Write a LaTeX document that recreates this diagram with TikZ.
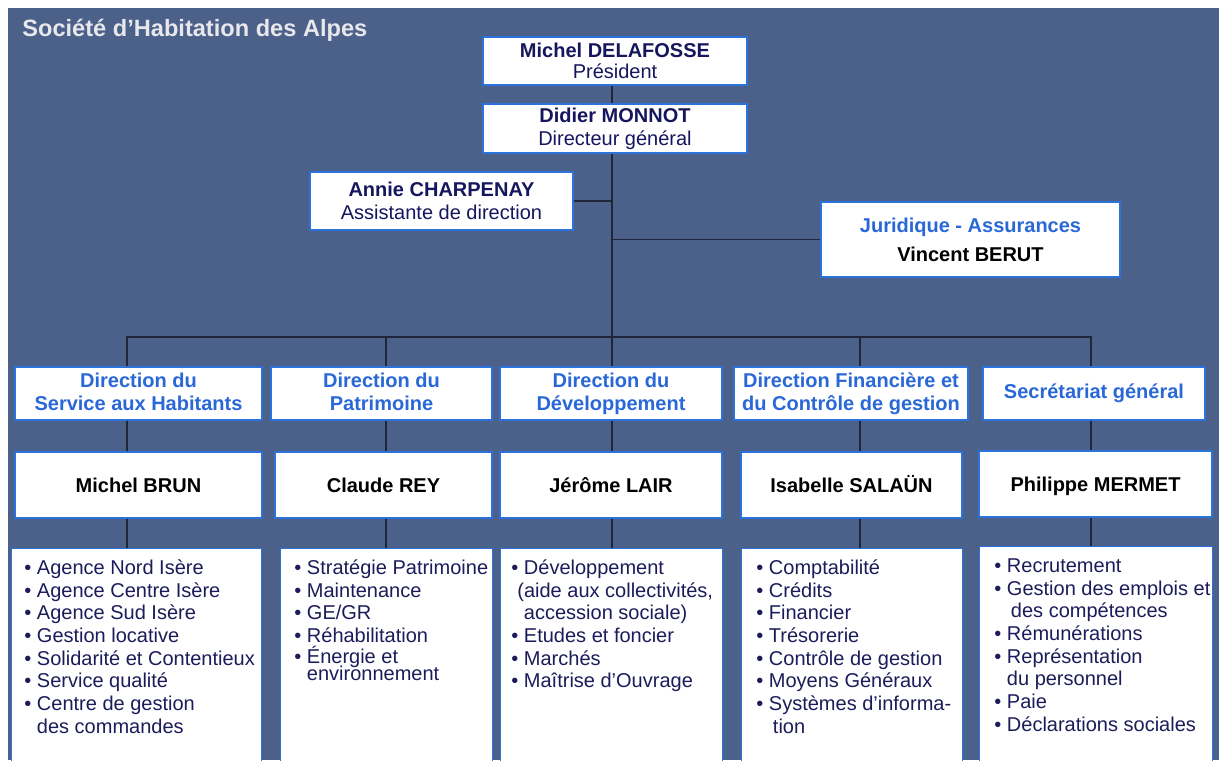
\documentclass[tikz,border=0pt]{standalone}
\usepackage{fontspec}
\setmainfont{Liberation Sans}
\usepackage{tikz}
\definecolor{backblue}{HTML}{4B6189}
\definecolor{boxline}{HTML}{2C72DC}
\definecolor{headblue}{HTML}{2A68D8}
\definecolor{navy}{HTML}{16165E}
\definecolor{listnavy}{HTML}{1C1C5A}
\definecolor{wire}{HTML}{1E2638}
\definecolor{titlegrey}{HTML}{E8E8EC}
\newcommand{\bul}{\textbullet\ }
\newcommand{\cont}{\phantom{\textbullet\ }}
\newcommand{\fsz}[1]{\fontsize{10pt}{#1}\selectfont}

\begin{document}
\begin{tikzpicture}[x=0.5pt, y=-0.5pt,
    box/.style={draw=boxline, line width=0.7pt, fill=white, inner sep=0pt, align=center},
    struts/.style={execute at begin node=\rule{0pt}{#1},
      execute at end node=\rule[-2.2pt]{0pt}{0pt}},
    headbox/.style={box, struts=7.6pt, text=headblue, font=\bfseries\fsz{11.5pt},
      minimum height=26.5pt},
    namebox/.style={box, struts=9.2pt, text=black, font=\bfseries\fsz{11.5pt},
      minimum height=33pt},
    listbox/.style={draw=boxline, line width=0.7pt, fill=white, inner sep=0pt,
      anchor=north west, minimum height=120pt},
    items/.style={anchor=north west, inner sep=0pt, align=left, text=listnavy,
      font=\fsz{11.35pt}},
    wire/.style={draw=wire, line width=0.8pt}]
      \useasboundingbox (0,0) rectangle (1219,760);
      \clip (0,0) rectangle (1219,760);
      \fill[white] (0,0) rectangle (1219,760);
      \fill[backblue] (8,8) rectangle (1219,760);

      \node[anchor=base west, inner sep=0pt, text=titlegrey,
            font=\bfseries\fontsize{11.8pt}{14pt}\selectfont]
        (title) at (22,36) {Société d’Habitation des Alpes};

      \node[box, text=navy, font=\fsz{10.5pt}, minimum width=132pt, minimum height=24pt]
        (pres) at (615,61) {\textbf{Michel DELAFOSSE}\\Président};
      \node[box, text=navy, font=\fsz{11.5pt}, minimum width=132pt, minimum height=24.5pt]
        (dg) at (615,128.5) {\textbf{Didier MONNOT}\\Directeur général};
      \node[box, text=navy, font=\fsz{11.5pt}, minimum width=131.5pt, minimum height=29pt]
        (annie) at (441.5,201) {\textbf{Annie CHARPENAY}\\Assistante de direction};
      \node[box, text=black, font=\bfseries\fsz{11.5pt}, minimum width=149.5pt,
            minimum height=37.5pt]
        (jur) at (970.5,239.5)
        {\textcolor{headblue}{Juridique - Assurances}\\[3pt]Vincent BERUT};

      \coordinate (c1) at (127,337);
      \coordinate (c2) at (386,337);
      \coordinate (bus) at (612,337);
      \coordinate (c3) at (612,337);
      \coordinate (c4) at (860,337);
      \coordinate (c5) at (1091,337);

      \node[headbox, minimum width=123.5pt] (d1) at (138.5,393.5)
        {Direction du\\Service aux Habitants};
      \node[headbox, minimum width=110.5pt] (d2) at (381.5,393.5)
        {Direction du\\Patrimoine};
      \node[headbox, minimum width=111pt] (d3) at (611,393.5)
        {Direction du\\Développement};
      \node[headbox, minimum width=117pt] (d4) at (851,393.5)
        {Direction Financière et\\du Contrôle de gestion};
      \node[headbox, minimum width=111pt] (d5) at (1094,393.5)
        {Secrétariat général};

      \node[namebox, minimum width=123.5pt] (n1) at (138.5,485) {Michel BRUN};
      \node[namebox, minimum width=108.5pt] (n2) at (383.5,485) {Claude REY};
      \node[namebox, minimum width=111pt] (n3) at (611,485) {Jérôme LAIR};
      \node[namebox, minimum width=110.5pt] (n4) at (851.5,485) {Isabelle SALAÜN};
      \node[namebox, minimum width=116.5pt] (n5) at (1095.5,484) {Philippe MERMET};

      \node[listbox, minimum width=125pt] (l1) at (11,548) {};
      \node[listbox, minimum width=106pt] (l2) at (280,548) {};
      \node[listbox, minimum width=111pt] (l3) at (500,548) {};
      \node[listbox, minimum width=110.5pt] (l4) at (741,548) {};
      \node[listbox, minimum width=116.5pt] (l5) at (979,546) {};

      \node[items] (i1) at (24,558)
        {\rule{0pt}{8pt}\bul Agence Nord Isère\\ \bul Agence Centre Isère\\
         \bul Agence Sud Isère\\ \bul Gestion locative\\
         \bul Solidarité et Contentieux\\ \bul Service qualité\\
         \bul Centre de gestion\\ \cont des commandes};
      \node[items] (i2) at (294,558)
        {\rule{0pt}{8pt}\bul Stratégie Patrimoine\\ \bul Maintenance\\ \bul GE/GR\\
         \bul Réhabilitation\\[-1pt] \bul Énergie et\\[-2.8pt] \cont environnement};
      \node[items] (i3) at (511,558)
        {\rule{0pt}{8pt}\bul Développement\\ \hspace*{3pt}(aide aux collectivités,\\
         \cont accession sociale)\\ \bul Etudes et foncier\\ \bul Marchés\\
         \bul Maîtrise d’Ouvrage};
      \node[items] (i4) at (756,558)
        {\rule{0pt}{8pt}\bul Comptabilité\\ \bul Crédits\\ \bul Financier\\
         \bul Trésorerie\\ \bul Contrôle de gestion\\ \bul Moyens Généraux\\
         \bul Systèmes d’informa-\\ \cont\hspace*{2pt}tion};
      \node[items] (i5) at (994,556)
        {\rule{0pt}{8pt}\bul Recrutement\\ \bul Gestion des emplois et\\
         \cont\hspace*{2pt}des compétences\\ \bul Rémunérations\\
         \bul Représentation\\ \cont du personnel\\ \bul Paie\\
         \bul Déclarations sociales};

      \draw[wire] (pres.south -| bus) -- (dg.north -| bus);
      \draw[wire] (dg.south -| bus) -- (bus);
      \draw[wire] (annie.east) -- (annie.east -| bus);
      \draw[wire] (jur.west) -- (jur.west -| bus);
      \draw[wire] (d1.north -| c1) |- (c5) -- (d5.north -| c5);
      \foreach \i in {2,3,4}
        \draw[wire] (c\i) -- (d\i.north -| c\i);
      \foreach \i in {1,...,5} {
        \draw[wire] (d\i.south -| c\i) -- (n\i.north -| c\i);
        \draw[wire] (n\i.south -| c\i) -- (l\i.north -| c\i);
      }
    \end{tikzpicture}
\end{document}
